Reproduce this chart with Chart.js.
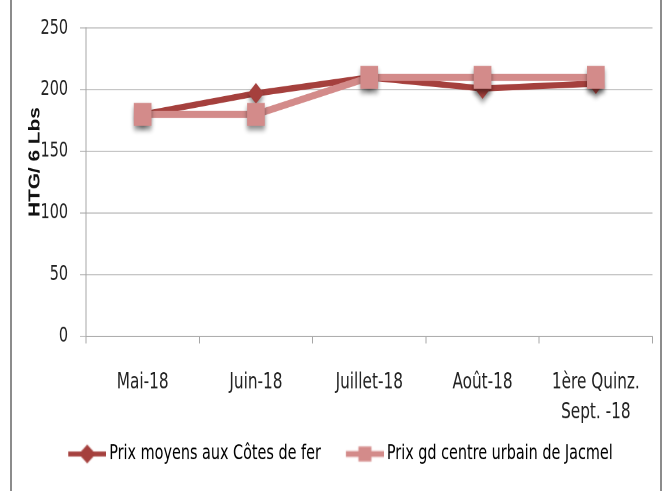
<!DOCTYPE html>
<html>
<head>
<meta charset="utf-8">
<script src="https://cdn.jsdelivr.net/npm/chart.js@4"></script>
<style>
  html, body { margin: 0; padding: 0; background: #fff; }
  /* le graphique d'origine est étiré verticalement : on dessine sur 378 px et on affiche sur 491 */
  #graphe { display: block; width: 665px !important; height: 491px !important; }
</style>
</head>
<body>
<canvas id="graphe" width="665" height="378"></canvas>
<script>
// données
const mois = ["Mai-18", "Juin-18", "Juillet-18", "Août-18", ["1ère Quinz.", "Sept. -18"]];
const prixCotesDeFer = [180, 197, 210, 201, 205];
const prixJacmel = [180, 180, 210, 210, 210];
const ticksY = [0, 50, 100, 150, 200, 250];
const series = ["Prix moyens aux Côtes de fer", "Prix gd centre urbain de Jacmel"];

const rouge = "#A5403D";
const rose = "#D38B8A";
const police = "'DejaVu Sans Condensed', 'Liberation Sans Narrow', sans-serif";

// ombre sous les marqueurs seulement
const drawPoint = Chart.PointElement.prototype.draw;
Chart.PointElement.prototype.draw = function (ctx, area) {
  ctx.save();
  ctx.shadowColor = "rgba(0,0,0,0.45)";
  ctx.shadowBlur = 8;
  ctx.shadowOffsetY = 6;
  drawPoint.call(this, ctx, area);
  ctx.restore();
};

// trait + marqueur de la légende, calé à droite de l'image
function iconeLegende(couleur, forme) {
  const c = document.createElement("canvas");
  c.width = 55; c.height = 20;
  const g = c.getContext("2d");
  g.fillStyle = couleur;
  if (forme === "rect") {
    g.fillRect(17, 7.7, 38, 4.6);
    g.fillRect(29.5, 4.25, 13, 11.5);
  } else {
    g.fillRect(17, 8.1, 38, 3.8);
    g.beginPath();
    g.moveTo(36, 2.7); g.lineTo(44.5, 10); g.lineTo(36, 17.3); g.lineTo(27.5, 10);
    g.closePath();
    g.fill();
  }
  return c;
}

const cadre = {
  id: "cadre",
  beforeDraw(chart) {
    const ctx = chart.ctx;
    ctx.save();
    ctx.strokeStyle = "#8c8c8c";
    ctx.lineWidth = 2;
    ctx.beginPath();
    ctx.moveTo(11, 0); ctx.lineTo(11, chart.height);
    ctx.moveTo(661, 0); ctx.lineTo(661, chart.height);
    ctx.stroke();
    ctx.restore();
  }
};

new Chart(document.getElementById("graphe"), {
  type: "line",
  data: {
    labels: mois,
    datasets: [
      {
        label: series[0],
        data: prixCotesDeFer,
        borderColor: rouge,
        backgroundColor: rouge,
        borderWidth: 4.8,
        pointStyle: "rectRot",
        pointRadius: 8,
        pointBorderWidth: 0,
        tension: 0,
        order: 1
      },
      {
        label: series[1],
        data: prixJacmel,
        borderColor: rose,
        backgroundColor: rose,
        borderWidth: 5.5,
        pointStyle: "rect",
        pointRadius: 12.5,
        pointBorderWidth: 0,
        tension: 0,
        order: 0
      }
    ]
  },
  options: {
    responsive: false,
    animation: false,
    devicePixelRatio: 2,
    layout: { padding: { left: 9, right: 5, top: 21.5, bottom: 10.5 } },
    scales: {
      x: {
        offset: true,
        grid: { drawOnChartArea: false, offset: true, tickLength: 5.4, color: "#a6a6a6", lineWidth: 1 },
        border: { color: "#a6a6a6", width: 0.8 },
        ticks: {
          color: "#222",
          padding: 18.5,
          maxRotation: 0,
          autoSkip: false,
          font: { family: police, size: 17, lineHeight: 1.36 }
        },
        afterFit(scale) { scale.height = 69.5; }
      },
      y: {
        min: ticksY[0],
        max: ticksY[ticksY.length - 1],
        grid: { color: "#b3b3b3", tickLength: 6, lineWidth: 0.8 },
        border: { color: "#a6a6a6", width: 1 },
        ticks: {
          stepSize: ticksY[1] - ticksY[0],
          color: "#222",
          padding: 12,
          font: { family: police, size: 16 }
        },
        title: {
          display: true,
          text: "       HTG/ 6 Lbs",
          color: "#111",
          padding: { top: 20.5, bottom: 0 },
          font: { family: "'Liberation Sans', Arial, sans-serif", size: 16, weight: "bold", lineHeight: 0.69 }
        },
        afterFit(scale) { scale.width = 77; }
      }
    },
    plugins: {
      tooltip: { enabled: false },
      legend: {
        position: "bottom",
        labels: {
          usePointStyle: true,
          pointStyleWidth: 45,
          padding: 13,
          color: "#222",
          font: { family: police, size: 16 },
          generateLabels(chart) {
            return chart.data.datasets.map((ds, i) => ({
              text: ds.label,
              fillStyle: ds.borderColor,
              strokeStyle: ds.borderColor,
              lineWidth: 0,
              pointStyle: iconeLegende(ds.borderColor, ds.pointStyle),
              datasetIndex: i,
              hidden: false
            }));
          }
        }
      }
    }
  },
  plugins: [cadre]
});
</script>
</body>
</html>
